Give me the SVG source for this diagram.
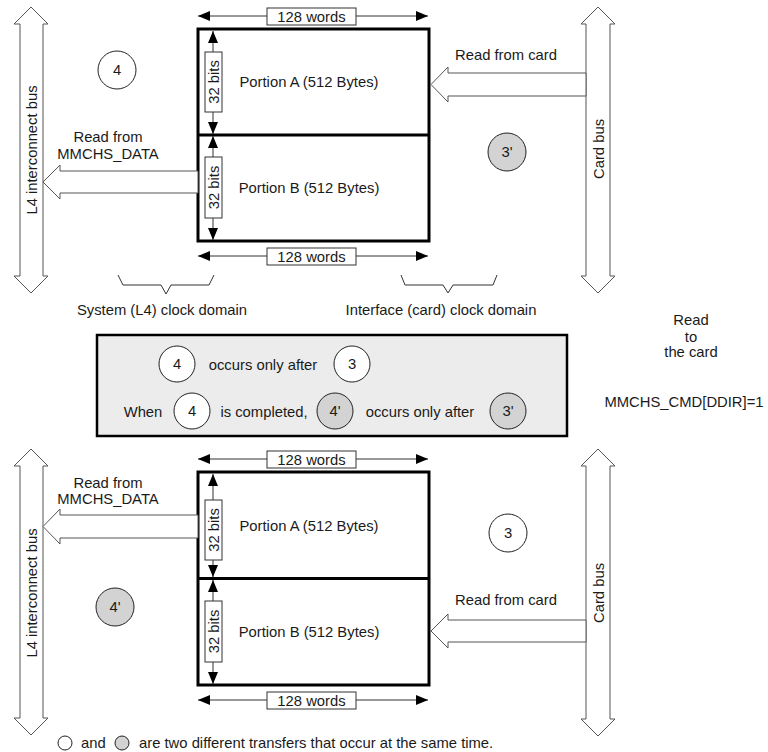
<svg xmlns="http://www.w3.org/2000/svg" width="768" height="752" viewBox="0 0 768 752">
<defs>
<marker id="ah" viewBox="0 0 12 10" refX="12" refY="5" markerWidth="12" markerHeight="10" markerUnits="userSpaceOnUse" orient="auto-start-reverse">
<path d="M0,0 L12,5 L0,10 z" fill="#000"/>
</marker>
<style>
text{font-family:"Liberation Sans",Arial,sans-serif;font-size:14.8px;fill:#1a1a1a}
.c{text-anchor:middle}
.bus{fill:#fff;stroke:#555;stroke-width:1}
.harrow{fill:#fff;stroke:#555;stroke-width:1}
.mem{fill:#fff;stroke:#000;stroke-width:3}
.dim{stroke:#333;stroke-width:1;fill:none}
.lbl{fill:#fff;stroke:#333;stroke-width:1}
.cw{fill:#fff;stroke:#222;stroke-width:1}
.cg{fill:#d3d3d3;stroke:#222;stroke-width:1}
.br{fill:none;stroke:#333;stroke-width:1}
</style>
</defs>
<rect width="768" height="752" fill="#fff"/>

<!-- TOP SECTION -->
<g id="l4-bus-top">
<polygon class="bus" points="31,7 48,24 43,24 43,276 48,276 31,293 14,276 20,276 20,24 14,24"/>
<text class="c" transform="translate(36.5,150) rotate(-90)">L4 interconnect bus</text>
</g>
<g id="card-bus-top">
<polygon class="bus" points="598,7 615,24 610,24 610,276 615,276 598,293 581,276 586,276 586,24 581,24"/>
<text class="c" transform="translate(603.5,149) rotate(-90)">Card bus</text>
</g>
<g id="memory-top">
<rect class="mem" x="198" y="29" width="231" height="212"/>
<line x1="198" y1="135" x2="429" y2="135" stroke="#000" stroke-width="3"/>
<text class="c" x="309" y="87">Portion A (512 Bytes)</text>
<text class="c" x="309" y="193">Portion B (512 Bytes)</text>
</g>
<g id="connectors-top">
<line class="dim" x1="198" y1="16" x2="428" y2="16" marker-start="url(#ah)" marker-end="url(#ah)"/>
<rect class="lbl" x="267" y="8" width="89" height="17"/>
<text class="c" x="311.5" y="21.5">128 words</text>
<line class="dim" x1="198" y1="256" x2="428" y2="256" marker-start="url(#ah)" marker-end="url(#ah)"/>
<rect class="lbl" x="267" y="248" width="89" height="17"/>
<text class="c" x="311.5" y="261.5">128 words</text>
<line class="dim" x1="213" y1="31" x2="213" y2="134" marker-start="url(#ah)" marker-end="url(#ah)"/>
<rect class="lbl" x="205" y="52" width="17" height="60"/>
<text class="c" transform="translate(218.5,82) rotate(-90)">32 bits</text>
<line class="dim" x1="213" y1="136" x2="213" y2="240" marker-start="url(#ah)" marker-end="url(#ah)"/>
<rect class="lbl" x="205" y="157" width="17" height="61"/>
<text class="c" transform="translate(218.5,187.5) rotate(-90)">32 bits</text>
<polygon class="harrow" points="198,171 60,171 60,165 43,182 60,199 60,193 198,193"/>
<polygon class="harrow" points="586,73 448,73 448,67 431,84.5 448,102 448,96 586,96"/>
<path class="br" d="M118,275 L123,285 L161,285 L166,294 L171,285 L209,285 L214,275"/>
<path class="br" d="M401,275 L405,285 L443,285 L448,293 L453,285 L493,285 L497,275"/>
</g>
<g id="labels-top">
<text class="c" x="108" y="142">Read from</text>
<text class="c" x="108" y="159">MMCHS_DATA</text>
<text class="c" x="506" y="60">Read from card</text>
<text class="c" x="162" y="315">System (L4) clock domain</text>
<text class="c" x="441" y="315">Interface (card) clock domain</text>
</g>
<g id="step-4-top">
<circle class="cw" cx="117" cy="70" r="19"/>
<text class="c" x="117" y="75">4</text>
</g>
<g id="step-3p-top">
<circle class="cg" cx="507" cy="152" r="19"/>
<text class="c" x="507" y="157">3'</text>
</g>

<!-- CONDITIONS BOX -->
<g id="conditions">
<rect x="97" y="335" width="470" height="101" fill="#ececec" stroke="#000" stroke-width="2.5"/>
<circle class="cw" cx="177" cy="364" r="18"/>
<text class="c" x="177" y="369">4</text>
<text class="c" x="263" y="370">occurs only after</text>
<circle class="cw" cx="352" cy="364" r="18"/>
<text class="c" x="352" y="369">3</text>
<text class="c" x="143" y="417">When</text>
<circle class="cw" cx="192" cy="411" r="18"/>
<text class="c" x="192" y="416">4</text>
<text class="c" x="264" y="417">is completed,</text>
<circle class="cg" cx="335" cy="411" r="18"/>
<text class="c" x="335" y="416">4'</text>
<text class="c" x="420" y="417">occurs only after</text>
<circle class="cg" cx="508" cy="411" r="18"/>
<text class="c" x="508" y="416">3'</text>
</g>
<g id="mode-note">
<text class="c" x="691" y="325">Read</text>
<text class="c" x="691" y="342">to</text>
<text class="c" x="691" y="357">the card</text>
<text class="c" x="684" y="407">MMCHS_CMD[DDIR]=1</text>
</g>

<!-- BOTTOM SECTION -->
<g id="l4-bus-bottom">
<polygon class="bus" points="31,449 48,466 43,466 43,718 48,718 31,735 14,718 20,718 20,466 14,466"/>
<text class="c" transform="translate(36.5,593) rotate(-90)">L4 interconnect bus</text>
</g>
<g id="card-bus-bottom">
<polygon class="bus" points="598,449 615,466 610,466 610,719 615,719 598,736 581,719 586,719 586,466 581,466"/>
<text class="c" transform="translate(603.5,593) rotate(-90)">Card bus</text>
</g>
<g id="memory-bottom">
<rect class="mem" x="198" y="472" width="231" height="213"/>
<line x1="198" y1="578.5" x2="429" y2="578.5" stroke="#000" stroke-width="3"/>
<text class="c" x="309" y="531">Portion A (512 Bytes)</text>
<text class="c" x="309" y="637">Portion B (512 Bytes)</text>
</g>
<g id="connectors-bottom">
<line class="dim" x1="198" y1="459" x2="428" y2="459" marker-start="url(#ah)" marker-end="url(#ah)"/>
<rect class="lbl" x="267" y="451" width="89" height="17"/>
<text class="c" x="311.5" y="464.5">128 words</text>
<line class="dim" x1="198" y1="700" x2="428" y2="700" marker-start="url(#ah)" marker-end="url(#ah)"/>
<rect class="lbl" x="267" y="692" width="89" height="17"/>
<text class="c" x="311.5" y="705.5">128 words</text>
<line class="dim" x1="213" y1="474" x2="213" y2="577" marker-start="url(#ah)" marker-end="url(#ah)"/>
<rect class="lbl" x="205" y="500" width="17" height="60"/>
<text class="c" transform="translate(218.5,530) rotate(-90)">32 bits</text>
<line class="dim" x1="213" y1="580" x2="213" y2="684" marker-start="url(#ah)" marker-end="url(#ah)"/>
<rect class="lbl" x="205" y="601" width="17" height="61"/>
<text class="c" transform="translate(218.5,631.5) rotate(-90)">32 bits</text>
<polygon class="harrow" points="198,515 60,515 60,509 43,526.5 60,544 60,538 198,538"/>
<polygon class="harrow" points="586,620 448,620 448,614 431,631 448,648 448,642 586,642"/>
</g>
<g id="labels-bottom">
<text class="c" x="108" y="488">Read from</text>
<text class="c" x="108" y="504">MMCHS_DATA</text>
<text class="c" x="506" y="605">Read from card</text>
</g>
<g id="step-4p-bottom">
<circle class="cg" cx="115" cy="607" r="19"/>
<text class="c" x="115" y="612">4'</text>
</g>
<g id="step-3-bottom">
<circle class="cw" cx="508" cy="533" r="19"/>
<text class="c" x="508" y="538">3</text>
</g>

<!-- LEGEND -->
<g id="legend">
<circle class="cw" cx="65" cy="743" r="7"/>
<text x="81" y="748">and</text>
<circle class="cg" cx="122" cy="743" r="7"/>
<text x="139" y="748">are two different transfers that occur at the same time.</text>
</g>
</svg>
